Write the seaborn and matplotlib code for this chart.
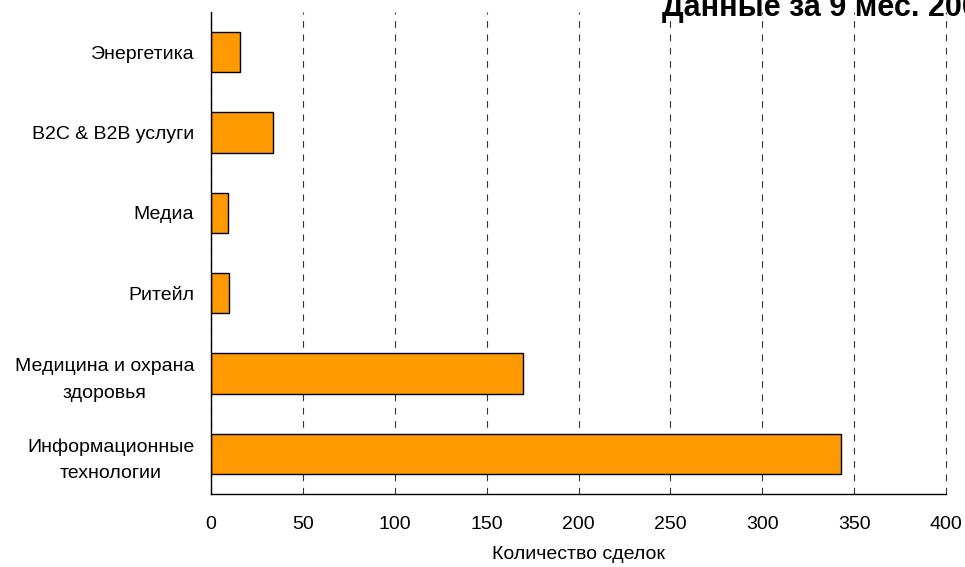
import matplotlib
matplotlib.use("Agg")
import matplotlib.pyplot as plt
import seaborn as sns
import pandas as pd
from matplotlib.ticker import FixedLocator

categories = ["Энергетика", "B2C & B2B услуги", "Медиа", "Ритейл",
              "Медицина и охрана\nздоровья", "Информационные\nтехнологии"]
deals = [16, 34, 9, 10, 170, 343]
xticks = [0, 50, 100, 150, 200, 250, 300, 350, 400]
title = "Данные за 9 мес. 2008"
xlabel = "Количество сделок"

sns.set_style("white")
plt.rcParams['font.family'] = ['Liberation Sans', 'DejaVu Sans']
plt.rcParams['text.color'] = 'black'
plt.rcParams['axes.labelcolor'] = 'black'
plt.rcParams['xtick.color'] = 'black'
plt.rcParams['ytick.color'] = 'black'

FS = 14

df = pd.DataFrame({"cat": categories, "val": deals})

fig = plt.figure(figsize=(9.65, 5.67), dpi=100)
ax = fig.add_axes([211/965, 1-494/567, (946-211)/965, (494-12)/567])

sns.barplot(data=df, x="val", y="cat", orient="h", color="#FF9900",
            saturation=1, edgecolor="black", linewidth=1, width=0.5, ax=ax)

ax.set_xlim(0, 400)
ax.set_ylim(5.5, -0.5)
ax.set_xticks(xticks)
ax.set_xticklabels([str(t) for t in xticks], fontsize=FS)
ax.tick_params(axis='x', direction='inout', length=12, width=1, color='black', pad=10)
ax.tick_params(axis='y', which='major', length=0, pad=12, labelsize=FS)
ax.yaxis.set_minor_locator(FixedLocator([i - 0.5 for i in range(7)]))
ax.tick_params(axis='y', which='minor', direction='out', length=8, width=1, color='black')
for lbl in ax.get_yticklabels():
    lbl.set_multialignment('center')
    lbl.set_linespacing(1.7)

ax.grid(axis='x', color='#333333', linestyle=(0, (6, 6)), linewidth=0.8)
ax.grid(axis='y', visible=False)
ax.set_axisbelow(True)
for gl in ax.get_xgridlines():
    gl.set_clip_on(False)

for s in ['top', 'right']:
    ax.spines[s].set_visible(False)
for s in ['left', 'bottom']:
    ax.spines[s].set_color('black')
    ax.spines[s].set_linewidth(1)

ax.set_ylabel("")
ax.set_xlabel(xlabel, fontsize=FS, labelpad=9)

fig.text(662/965, 1-16/567, title, fontsize=22, fontweight='bold',
         ha='left', va='baseline', color='black')

fig.savefig("out.png", dpi=100)
